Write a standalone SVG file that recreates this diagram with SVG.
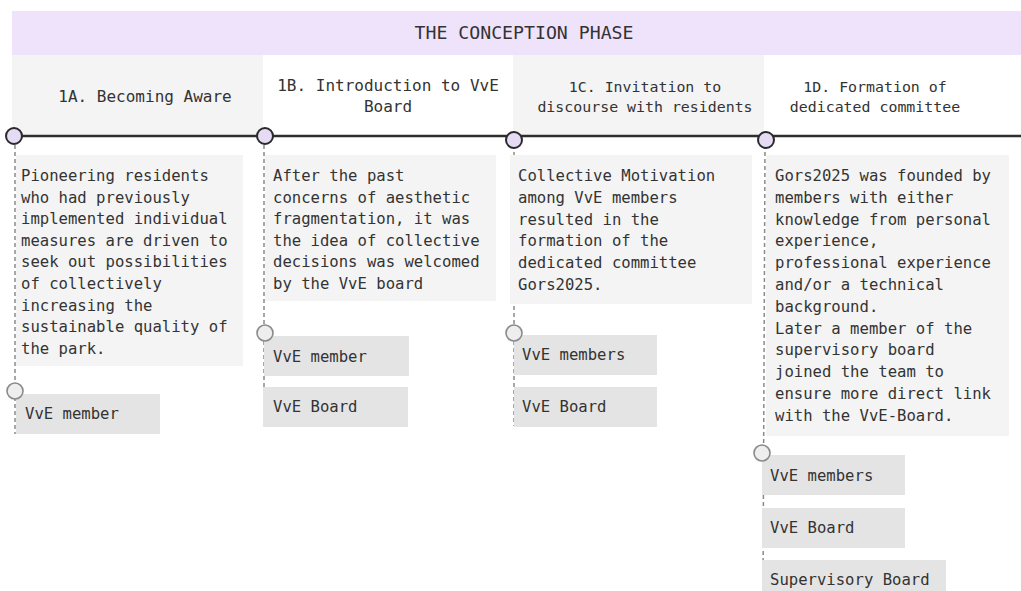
<svg xmlns="http://www.w3.org/2000/svg" width="1021" height="591" viewBox="0 0 1021 591">
  <style>
    text { font-family: "DejaVu Sans Mono", "Liberation Mono", monospace; fill: #333333; }
    .title { font-size: 18.2px; text-anchor: middle; }
    .head { font-size: 16px; text-anchor: middle; }
    .head-sm { font-size: 14.9px; text-anchor: middle; }
    .body { font-size: 15.6px; }
    .tag { font-size: 15.6px; }
    .band { fill: #efe2fb; }
    .col-grey { fill: #f4f4f4; }
    .card { fill: #f4f4f4; }
    .chip { fill: #e4e4e4; }
    .timeline { stroke: #2e2e2e; stroke-width: 2.6; fill: none; }
    .stage-dot { fill: #e6dbf5; stroke: #2a2a2a; stroke-width: 2; }
    .stem { stroke: #8a8a8a; stroke-width: 1.5; stroke-dasharray: 4 3; fill: none; }
    .actor-dot { fill: #eeeeee; stroke: #8a8a8a; stroke-width: 1.6; }
  </style>

  <!-- phase banner -->
  <g id="phase">
    <rect class="band" x="12" y="11" width="1009" height="44"/>
    <text class="title" x="524" y="39">THE CONCEPTION PHASE</text>
  </g>

  <!-- stage header backgrounds -->
  <rect class="col-grey" x="12" y="55" width="251" height="80"/>
  <rect class="col-grey" x="513" y="55" width="251" height="80"/>

  <!-- connectors: timeline and dashed stems -->
  <g id="connectors">
    <line class="timeline" x1="14" y1="136" x2="1021" y2="136"/>
    <line class="stem" x1="15" y1="145" x2="15" y2="434"/>
    <line class="stem" x1="264" y1="145" x2="264" y2="426"/>
    <line class="stem" x1="514" y1="145" x2="514" y2="426"/>
    <line class="stem" x1="765" y1="145" x2="763" y2="591"/>
  </g>

  <!-- stage 1A -->
  <g id="stage-1a">
    <text class="head" x="145" y="102">1A. Becoming Aware</text>
    <circle class="stage-dot" cx="14" cy="136" r="8"/>
    <rect class="card" x="16" y="155" width="227" height="211"/>
    <text class="body" x="21" y="181">
      <tspan x="21" dy="0">Pioneering residents</tspan>
      <tspan x="21" dy="21.6">who had previously</tspan>
      <tspan x="21" dy="21.6">implemented individual</tspan>
      <tspan x="21" dy="21.6">measures are driven to</tspan>
      <tspan x="21" dy="21.6">seek out possibilities</tspan>
      <tspan x="21" dy="21.6">of collectively</tspan>
      <tspan x="21" dy="21.6">increasing the</tspan>
      <tspan x="21" dy="21.6">sustainable quality of</tspan>
      <tspan x="21" dy="21.6">the park.</tspan>
    </text>
  </g>
  <g id="actors-1a">
    <rect class="chip" x="16" y="394" width="144" height="40"/>
    <circle class="actor-dot" cx="15" cy="391" r="8"/>
    <text class="tag" x="25" y="419">VvE member</text>
  </g>

  <!-- stage 1B -->
  <g id="stage-1b">
    <text class="head" x="388" y="91">1B. Introduction to VvE</text>
    <text class="head" x="388" y="112">Board</text>
    <circle class="stage-dot" cx="265" cy="136" r="8"/>
    <rect class="card" x="265" y="155" width="231" height="146"/>
    <text class="body" x="273" y="181">
      <tspan x="273" dy="0">After the past</tspan>
      <tspan x="273" dy="21.6">concerns of aesthetic</tspan>
      <tspan x="273" dy="21.6">fragmentation, it was</tspan>
      <tspan x="273" dy="21.6">the idea of collective</tspan>
      <tspan x="273" dy="21.6">decisions was welcomed</tspan>
      <tspan x="273" dy="21.6">by the VvE board</tspan>
    </text>
  </g>
  <g id="actors-1b">
    <rect class="chip" x="264" y="336" width="145" height="40"/>
    <rect class="chip" x="263" y="387" width="145" height="40"/>
    <circle class="actor-dot" cx="265" cy="333" r="8"/>
    <text class="tag" x="273" y="362">VvE member</text>
    <text class="tag" x="273" y="412">VvE Board</text>
  </g>

  <!-- stage 1C -->
  <g id="stage-1c">
    <text class="head-sm" x="645" y="92">1C. Invitation to</text>
    <text class="head-sm" x="645" y="112">discourse with residents</text>
    <circle class="stage-dot" cx="514" cy="140" r="8"/>
    <rect class="card" x="510" y="155" width="242" height="149"/>
    <text class="body" x="518" y="181">
      <tspan x="518" dy="0">Collective Motivation</tspan>
      <tspan x="518" dy="21.8">among VvE members</tspan>
      <tspan x="518" dy="21.8">resulted in the</tspan>
      <tspan x="518" dy="21.8">formation of the</tspan>
      <tspan x="518" dy="21.8">dedicated committee</tspan>
      <tspan x="518" dy="21.8">Gors2025.</tspan>
    </text>
  </g>
  <g id="actors-1c">
    <rect class="chip" x="514" y="335" width="143" height="40"/>
    <rect class="chip" x="514" y="387" width="143" height="40"/>
    <circle class="actor-dot" cx="514" cy="333" r="8"/>
    <text class="tag" x="522" y="360">VvE members</text>
    <text class="tag" x="522" y="412">VvE Board</text>
  </g>

  <!-- stage 1D -->
  <g id="stage-1d">
    <text class="head-sm" x="875" y="92">1D. Formation of</text>
    <text class="head-sm" x="875" y="112">dedicated committee</text>
    <circle class="stage-dot" cx="766" cy="140" r="8"/>
    <rect class="card" x="766" y="155" width="243" height="281"/>
    <text class="body" x="775" y="181">
      <tspan x="775" dy="0">Gors2025 was founded by</tspan>
      <tspan x="775" dy="21.8">members with either</tspan>
      <tspan x="775" dy="21.8">knowledge from personal</tspan>
      <tspan x="775" dy="21.8">experience,</tspan>
      <tspan x="775" dy="21.8">professional experience</tspan>
      <tspan x="775" dy="21.8">and/or a technical</tspan>
      <tspan x="775" dy="21.8">background.</tspan>
      <tspan x="775" dy="21.8">Later a member of the</tspan>
      <tspan x="775" dy="21.8">supervisory board</tspan>
      <tspan x="775" dy="21.8">joined the team to</tspan>
      <tspan x="775" dy="21.8">ensure more direct link</tspan>
      <tspan x="775" dy="21.8">with the VvE-Board.</tspan>
    </text>
  </g>
  <g id="actors-1d">
    <rect class="chip" x="762" y="455" width="143" height="40"/>
    <rect class="chip" x="762" y="508" width="143" height="40"/>
    <rect class="chip" x="762" y="560" width="184" height="40"/>
    <circle class="actor-dot" cx="762" cy="453" r="8"/>
    <text class="tag" x="770" y="481">VvE members</text>
    <text class="tag" x="770" y="533">VvE Board</text>
    <text class="tag" x="770" y="585">Supervisory Board</text>
  </g>
</svg>
